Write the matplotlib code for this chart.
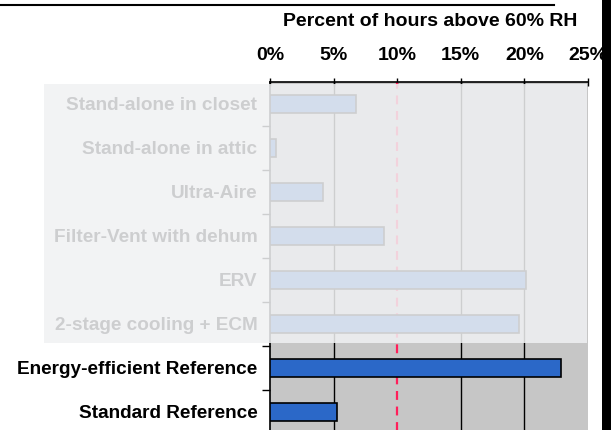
import matplotlib
matplotlib.use("Agg")
import matplotlib.pyplot as plt
from matplotlib.patches import Rectangle
from matplotlib.lines import Line2D

categories = ["Stand-alone in closet", "Stand-alone in attic", "Ultra-Aire",
              "Filter-Vent with dehum", "ERV", "2-stage cooling + ECM",
              "Energy-efficient Reference", "Standard Reference"]
values = [6.8, 0.5, 4.2, 9.0, 20.1, 19.6, 22.9, 5.3]
x_ticks = [0, 5, 10, 15, 20, 25]
threshold = 10
title = "Percent of hours above 60% RH"

plt.rcParams['font.family'] = ['Liberation Sans', 'DejaVu Sans']

W, H = 611, 430
fig = plt.figure(figsize=(W / 100, H / 100), dpi=100)
fig.patch.set_facecolor('white')

def fx(px):
    return px / W

def fy(py):
    return 1 - py / H

ax_left, ax_right, ax_top, ax_bot = 270, 588, 82, 434
ax = fig.add_axes([fx(ax_left), fy(ax_bot), fx(ax_right - ax_left), (ax_bot - ax_top) / H])
ax.set_facecolor('#c6c6c6')

y = list(range(len(categories)))
ax.barh(y, values, height=0.42, color='#2b68c8', edgecolor='black', linewidth=1.2, zorder=3)

ax.set_xlim(x_ticks[0], x_ticks[-1])
ax.set_ylim(len(categories) - 0.5, -0.5)

for t in x_ticks[1:-1]:
    if t != threshold:
        ax.axvline(t, color='black', lw=1.0, zorder=1)
ax.axvline(threshold, color='#ff1f5a', lw=1.6, ls=(0, (4, 3)), zorder=2)

ax.xaxis.tick_top()
ax.set_xticks(x_ticks)
ax.set_xticklabels([f"{t}%" for t in x_ticks], fontsize=14, fontweight='bold')
ax.tick_params(axis='x', direction='inout', length=6, width=1, pad=10)

ax.set_yticks(y)
ax.set_yticklabels(categories, fontsize=13.7, fontweight='bold')
ax.tick_params(axis='y', length=0, pad=9)
ax.set_yticks([i + 0.5 for i in y[:-1]], minor=True)
ax.tick_params(axis='y', which='minor', length=6, width=1, direction='out')

for s in ['right', 'bottom']:
    ax.spines[s].set_visible(False)
ax.spines['top'].set_linewidth(1.2)
ax.spines['left'].set_linewidth(1.2)

fig.text(fx(430), fy(21), title, ha='center', va='center', fontsize=14, fontweight='bold')

# faded overlay over top six rows
ov_x0, ov_x1, ov_y0, ov_y1 = 44, 587, 84, 343
fig.add_artist(Rectangle((fx(ov_x0), fy(ov_y1)), fx(ov_x1 - ov_x0), (ov_y1 - ov_y0) / H,
                         transform=fig.transFigure, facecolor='#f0f1f3', alpha=0.86,
                         edgecolor='none', zorder=5))

# top rule and right black edge
fig.add_artist(Line2D([0, fx(554)], [fy(5), fy(5)], transform=fig.transFigure,
                      color='black', lw=1.5, zorder=6))
fig.add_artist(Rectangle((fx(602), 0), 1 - fx(602), 1, transform=fig.transFigure,
                         facecolor='black', edgecolor='none', zorder=6))

fig.savefig('out.png', dpi=100)
